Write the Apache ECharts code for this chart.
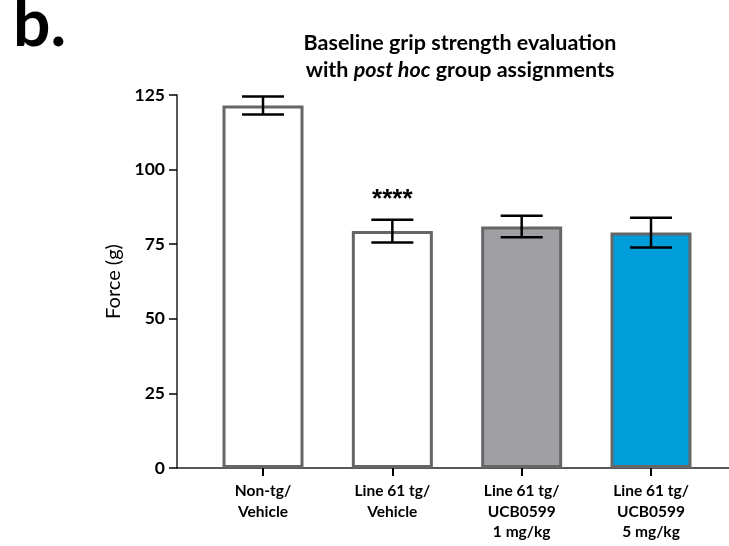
<!DOCTYPE html>
<html>
<head>
<meta charset="utf-8">
<script src="https://cdn.jsdelivr.net/npm/echarts@6/dist/echarts.min.js"></script>
<style>html,body{margin:0;padding:0;background:#fff;}#c{width:729px;height:546px;}</style>
</head>
<body>
<div id="c"></div>
<script>
const categories = ['Non-tg/\nVehicle', 'Line 61 tg/\nVehicle', 'Line 61 tg/\nUCB0599\n1 mg/kg', 'Line 61 tg/\nUCB0599\n5 mg/kg'];
const means = [121.5, 79.4, 80.9, 78.9];
const errors = [3.0, 3.8, 3.6, 5.0];
const stars = ['', '****', '', ''];
const fills = ['#ffffff', '#ffffff', '#a09fa4', '#009ddb'];
const yTicks = [0, 25, 50, 75, 100, 125];

const F = 'Lato, "Open Sans", sans-serif';
const chart = echarts.init(document.getElementById('c'));
chart.setOption({
  animation: false,
  backgroundColor: '#ffffff',
  title: [
    { text: 'b.', left: 8, top: -13, textStyle: { fontFamily: F, fontWeight: 'bold', fontSize: 66, color: '#000' } },
    { text: '{b|Baseline grip strength evaluation}\n{b|with }{i|post hoc}{b| group assignments}', left: 455, top: 25, textAlign: 'center',
      textStyle: { rich: {
        b: { fontFamily: F, fontWeight: 'bold', fontSize: 21.5, color: '#000', lineHeight: 27 },
        i: { fontFamily: F, fontWeight: 'bold', fontStyle: 'italic', fontSize: 21.5, color: '#000', lineHeight: 27 }
      } } }
  ],
  grid: { left: 177, right: 0, top: 95, bottom: 78, containLabel: false },
  xAxis: {
    type: 'value', min: -0.665, max: 3.603,
    splitLine: { show: false },
    axisLine: { show: true, onZero: false, lineStyle: { color: '#222', width: 1.5 } },
    axisTick: { show: true, customValues: [0, 1, 2, 3], length: 8, lineStyle: { color: '#000', width: 2 } },
    axisLabel: { customValues: [0, 1, 2, 3], margin: 13, formatter: v => categories[Math.round(v)],
      fontFamily: F, fontWeight: 'bold', fontSize: 15.5, color: '#000', lineHeight: 20.5 }
  },
  yAxis: {
    type: 'value', min: 0, max: 125, interval: 25,
    name: 'Force (g)', nameLocation: 'middle', nameGap: 45, nameRotate: 90,
    nameTextStyle: { fontFamily: F, fontSize: 20, color: '#000' },
    splitLine: { show: false },
    axisLine: { show: true, onZero: false, lineStyle: { color: '#222', width: 1.5 } },
    axisTick: { show: true, length: 8, lineStyle: { color: '#000', width: 1.5 } },
    axisLabel: { margin: 12, fontFamily: F, fontWeight: 'bold', fontSize: 17.5, color: '#000',
      formatter: v => yTicks.indexOf(v) >= 0 ? String(v) : '' }
  },
  series: [
    {
      type: 'bar', barWidth: 81,
      data: means.map((m, i) => ({ value: [i, m], itemStyle: { color: fills[i], borderColor: '#666666', borderWidth: 3 } })),
      z: 2
    },
    {
      type: 'custom', z: 5,
      data: means.map((m, i) => [i, m, errors[i]]),
      renderItem: function (params, api) {
        const x = api.value(0), m = api.value(1), e = api.value(2);
        const top = api.coord([x, m + e]);
        const bot = api.coord([x, m - e]);
        const hw = 21;
        const st = { stroke: '#000', lineWidth: 2.5 };
        const children = [
          { type: 'line', shape: { x1: top[0], y1: top[1], x2: bot[0], y2: bot[1] }, style: st },
          { type: 'line', shape: { x1: top[0] - hw, y1: top[1], x2: top[0] + hw, y2: top[1] }, style: st },
          { type: 'line', shape: { x1: bot[0] - hw, y1: bot[1], x2: bot[0] + hw, y2: bot[1] }, style: st }
        ];
        const s = stars[params.dataIndex];
        if (s) {
          children.push({ type: 'text', x: top[0], y: top[1] - 20,
            style: { text: s, fill: '#000', font: 'bold 26px "Liberation Sans", Arial, sans-serif', align: 'center', verticalAlign: 'middle' } });
        }
        return { type: 'group', children };
      }
    }
  ]
});
</script>
</body>
</html>
